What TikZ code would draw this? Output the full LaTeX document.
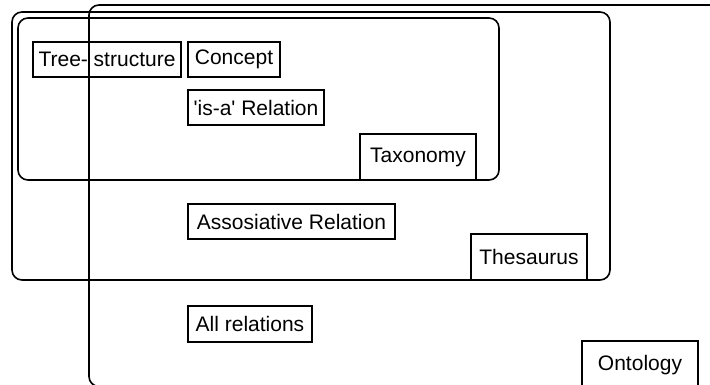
\documentclass[tikz,border=0pt]{standalone}
\usepackage{fontspec}
\setmainfont{Liberation Sans}
\newfontfamily\lblfont{Liberation Sans}
\begin{document}
\begin{tikzpicture}[x=1pt,y=-1pt,
  frame/.style={draw=black, line width=1.6pt, rounded corners=10pt},
  lbl/.style={draw=black, line width=1.6pt, fill=none, inner sep=0pt,
    font=\lblfont\fontsize{21}{24}\selectfont, text=black}]
\useasboundingbox (0,0) rectangle (710,385);
\begin{scope}
\clip (0,0) rectangle (710,385);
% Ontology (outer, clipped)
\draw[frame] (89,5) rectangle (820,386.5);
\end{scope}
% Thesaurus frame
\draw[frame] (12,12) rectangle (610,280);
% Taxonomy frame
\draw[frame] (18,18) rectangle (499,180);
% labels
\node[lbl, minimum width=148pt, minimum height=35pt] (tree) at (107,59.5) {Tree- structure};
\node[lbl, minimum width=92pt, minimum height=35pt] (concept) at (234,59.5) {Concept};
\node[lbl, minimum width=136pt, minimum height=35pt] (isa) at (256,107.5) {'is-a' Relation};
\node[lbl, minimum width=116pt, minimum height=46pt] (tax) at (418,157) {Taxonomy};
\node[lbl, minimum width=207pt, minimum height=35pt] (assoc) at (291.5,221.5) {Assosiative Relation};
\node[lbl, minimum width=116pt, minimum height=46pt] (thes) at (529,257) {Thesaurus};
\node[lbl, minimum width=124pt, minimum height=36pt] (allrel) at (250,324) {All relations};
\begin{scope}
\clip (0,0) rectangle (710,385);
\node[lbl, minimum width=116pt, minimum height=48pt] (onto) at (640,365) {Ontology};
\end{scope}
\end{tikzpicture}
\end{document}
